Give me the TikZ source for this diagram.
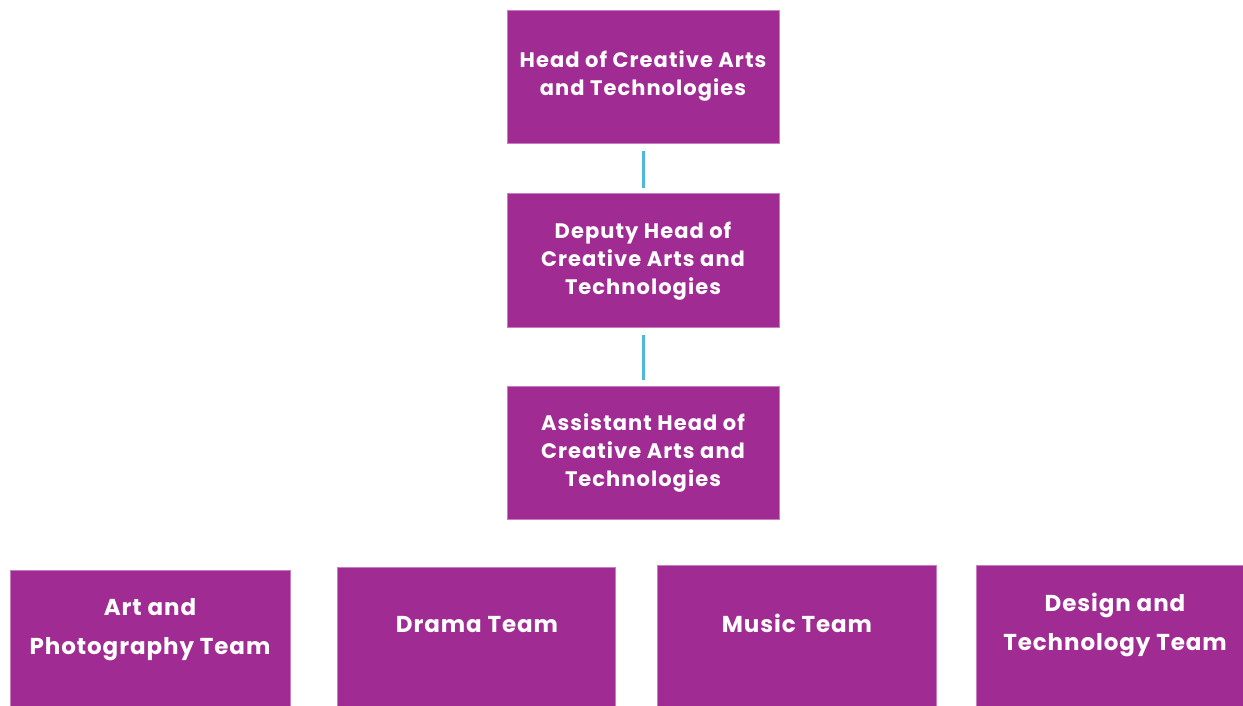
\documentclass[tikz,border=0pt]{standalone}
\usepackage{fontspec}
\setmainfont{Poppins}
\definecolor{boxpurple}{HTML}{A02B93}
\definecolor{boxedge}{HTML}{C77DBF}
\definecolor{linkblue}{HTML}{4FB6DE}
\begin{document}
\begin{tikzpicture}[x=1pt,y=-1pt,
  orgbox/.style={fill=boxpurple,draw=boxedge,line width=0.8pt,inner sep=0pt,anchor=north west},
  toptext/.style={text=white,font=\fontsize{21}{28}\selectfont\bfseries\addfontfeatures{LetterSpace=5},align=center,inner sep=0pt},
  teamtext/.style={text=white,font=\fontsize{23}{39}\selectfont\bfseries\addfontfeatures{LetterSpace=4},align=center,inner sep=0pt},
  link/.style={draw=linkblue,line width=2.6pt}]
\useasboundingbox (0,0) rectangle (1243,706);
% boxes
\node[orgbox,minimum width=272,minimum height=133] (head) at (507,10) {};
\node[orgbox,minimum width=272,minimum height=134] (deputy) at (507,193) {};
\node[orgbox,minimum width=272,minimum height=133] (assist) at (507,386) {};
\node[orgbox,minimum width=280,minimum height=140] (art) at (10,570) {};
\node[orgbox,minimum width=278,minimum height=143] (drama) at (337,567) {};
\node[orgbox,minimum width=279,minimum height=145] (music) at (657,565) {};
\node[orgbox,minimum width=270,minimum height=145] (design) at (976,565) {};
% texts
\node[toptext] (headt) at (643,76) {Head of Creative Arts\\and Technologies};
\node[toptext] (deputyt) at (643,261) {Deputy Head of\\Creative Arts and\\Technologies};
\node[toptext] (assistt) at (643,453) {Assistant Head of\\Creative Arts and\\Technologies};
\node[teamtext] (artt) at (150,630) {Art and\\Photography Team};
\node[teamtext] (dramat) at (477,625) {Drama Team};
\node[teamtext] (musict) at (797,623) {Music Team};
\node[teamtext] (designt) at (1115,625) {Design and\\Technology Team};
% connectors
\draw[link,shorten <=7pt,shorten >=5pt] (head.south) -- (deputy.north);
\draw[link,shorten <=7pt,shorten >=6pt] (deputy.south) -- (assist.north);
\end{tikzpicture}
\end{document}
